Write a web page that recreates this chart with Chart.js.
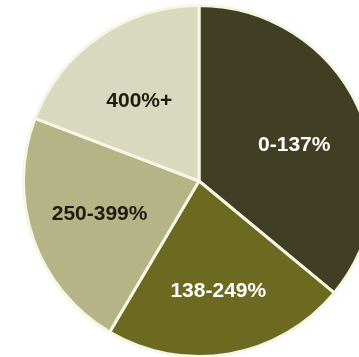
<!DOCTYPE html>
<html>
<head>
<meta charset="utf-8">
<script src="https://cdn.jsdelivr.net/npm/chart.js@4.4.0/dist/chart.umd.min.js"></script>
<style>
  html, body { margin: 0; padding: 0; background: #fff; overflow: hidden; }
  #wrap { position: absolute; left: 0; top: 4px; width: 398px; height: 354px; }
</style>
</head>
<body>
<div id="wrap"><canvas id="grafico" width="398" height="354"></canvas></div>
<script>
// === DADOS ===
const categorias = ['0-137%', '138-249%', '250-399%', '400%+'];
const valores = [36, 22.5, 22.3, 19.2];
const cores = ['#403e23', '#6b6a20', '#b4b487', '#d9d9c0'];
const coresTexto = ['#ffffff', '#ffffff', '#1c1c10', '#1c1c10'];

// plugin simples para escrever o rótulo dentro de cada fatia
const ajusteY = [9, 0, -2, 7];
const rotulos = {
  id: 'rotulos',
  afterDatasetsDraw(chart) {
    const { ctx } = chart;
    const meta = chart.getDatasetMeta(0);
    ctx.save();
    ctx.font = 'bold 21px "Liberation Sans", Arial, sans-serif';
    ctx.textAlign = 'center';
    ctx.textBaseline = 'middle';
    meta.data.forEach((arc, i) => {
      const p = arc.getProps(['x', 'y', 'startAngle', 'endAngle', 'outerRadius'], true);
      const meio = (p.startAngle + p.endAngle) / 2;
      const r = p.outerRadius * (i === 1 ? 0.64 : 0.6);
      ctx.fillStyle = coresTexto[i];
      ctx.fillText(categorias[i], p.x + Math.cos(meio) * r, p.y + Math.sin(meio) * r + ajusteY[i]);
    });
    ctx.restore();
  }
};

new Chart(document.getElementById('grafico'), {
  type: 'pie',
  data: {
    labels: categorias,
    datasets: [{
      data: valores,
      backgroundColor: cores,
      borderColor: '#f6f6e4',
      borderWidth: 3
    }]
  },
  options: {
    responsive: false,
    animation: false,
    layout: { padding: 0 },
    plugins: {
      legend: { display: false },
      tooltip: { enabled: false }
    }
  },
  plugins: [rotulos]
});
</script>
</body>
</html>
